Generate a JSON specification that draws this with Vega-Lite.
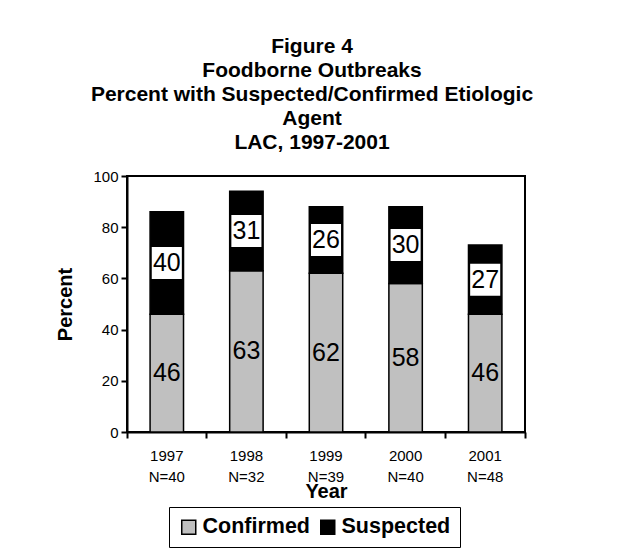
{
  "$schema": "https://vega.github.io/schema/vega-lite/v6.json",
  "width": 398,
  "height": 256,
  "autosize": {"type": "none"},
  "padding": {"left": 127, "top": 176, "right": 98, "bottom": 127},
  "background": "white",
  "title": {
    "text": ["Figure 4", "Foodborne Outbreaks", "Percent with Suspected/Confirmed Etiologic", "Agent", "LAC,  1997-2001"],
    "font": "Liberation Sans",
    "fontSize": 21,
    "fontWeight": "bold",
    "lineHeight": 24,
    "anchor": "middle",
    "dx": -14,
    "offset": 16,
    "color": "black"
  },
  "config": {
    "view": {"stroke": "black", "strokeWidth": 2},
    "axis": {
      "domainColor": "black", "domainWidth": 2,
      "tickColor": "black", "tickWidth": 2, "tickSize": 6,
      "labelFont": "Liberation Sans", "labelFontSize": 15, "labelColor": "black",
      "titleFont": "Liberation Sans", "titleFontSize": 20, "titleFontWeight": "bold", "titleColor": "black",
      "grid": false
    },
    "legend": {
      "labelFont": "Liberation Sans", "labelFontSize": 21.5, "labelFontWeight": "bold", "labelColor": "black",
      "strokeColor": "black"
    }
  },
  "data": {
    "values": [
      {"year": "1997\nN=40", "type": "Confirmed", "pct": 46},
      {"year": "1997\nN=40", "type": "Suspected", "pct": 40},
      {"year": "1998\nN=32", "type": "Confirmed", "pct": 63},
      {"year": "1998\nN=32", "type": "Suspected", "pct": 31},
      {"year": "1999\nN=39", "type": "Confirmed", "pct": 62},
      {"year": "1999\nN=39", "type": "Suspected", "pct": 26},
      {"year": "2000\nN=40", "type": "Confirmed", "pct": 58},
      {"year": "2000\nN=40", "type": "Suspected", "pct": 30},
      {"year": "2001\nN=48", "type": "Confirmed", "pct": 46},
      {"year": "2001\nN=48", "type": "Suspected", "pct": 27}
    ]
  },
  "transform": [
    {"stack": "pct", "groupby": ["year"], "sort": [{"field": "type", "order": "ascending"}], "as": ["y0", "y1"]},
    {"calculate": "(datum.y0 + datum.y1) / 2", "as": "ymid"}
  ],
  "encoding": {
    "x": {
      "field": "year", "type": "nominal", "sort": null,
      "scale": {"paddingInner": 0, "paddingOuter": 0},
      "axis": {
        "title": "Year", "labelAngle": 0,
        "bandPosition": 1, "tickExtra": true,
        "labelExpr": "split(datum.label, '\\n')",
        "labelPadding": 10, "labelLineHeight": 21, "titlePadding": -3
      }
    }
  },
  "layer": [
    {
      "mark": {"type": "bar", "stroke": "black", "strokeWidth": 1.5, "width": {"band": 0.42}},
      "encoding": {
        "y": {
          "field": "y0", "type": "quantitative",
          "scale": {"domain": [0, 100]},
          "axis": {"title": "Percent", "values": [0, 20, 40, 60, 80, 100], "labelPadding": 3, "titlePadding": 17}
        },
        "y2": {"field": "y1"},
        "color": {
          "field": "type", "type": "nominal",
          "scale": {"domain": ["Confirmed", "Suspected"], "range": ["#C0C0C0", "#000000"]},
          "legend": {
            "title": null, "orient": "none", "legendX": 42, "legendY": 331,
            "direction": "horizontal",
            "padding": 9, "symbolType": "square", "symbolSize": 196,
            "symbolStrokeColor": "black", "symbolStrokeWidth": 1.5, "symbolOpacity": 1,
            "columnPadding": 7, "labelOffset": 3
          }
        }
      }
    },
    {
      "transform": [{"filter": "datum.type == 'Suspected'"}],
      "mark": {"type": "point", "shape": "M-0.94,-1H0.94V1H-0.94Z", "size": 1024, "filled": true, "fill": "white", "strokeWidth": 0, "opacity": 1},
      "encoding": {
        "y": {"field": "ymid", "type": "quantitative"}
      }
    },
    {
      "mark": {"type": "text", "font": "Liberation Sans", "fontSize": 25, "color": "black"},
      "encoding": {
        "y": {"field": "ymid", "type": "quantitative"},
        "text": {"field": "pct", "type": "quantitative"}
      }
    }
  ]
}
